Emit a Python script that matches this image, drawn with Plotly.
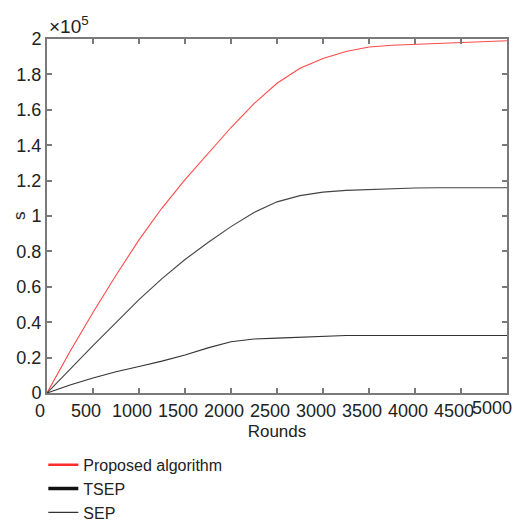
import plotly.graph_objects as go

# Rounds (x) and values (in units of 1e5, as shown with the ×10^5 multiplier)
rounds = [0, 250, 500, 750, 1000, 1250, 1500, 1750, 2000, 2250, 2500, 2750,
          3000, 3250, 3500, 3750, 4000, 4250, 4500, 4750, 5000]
proposed = [0, 0.235, 0.455, 0.665, 0.865, 1.045, 1.205, 1.355, 1.50, 1.635, 1.75, 1.835,
            1.89, 1.93, 1.955, 1.965, 1.97, 1.975, 1.98, 1.985, 1.99]
tsep = [0, 0.135, 0.268, 0.398, 0.528, 0.646, 0.754, 0.85, 0.94, 1.02, 1.08, 1.115,
        1.135, 1.145, 1.15, 1.155, 1.158, 1.16, 1.16, 1.16, 1.16]
sep = [0, 0.045, 0.085, 0.12, 0.15, 0.18, 0.215, 0.255, 0.29, 0.305, 0.31, 0.315,
       0.322, 0.325, 0.325, 0.325, 0.325, 0.325, 0.325, 0.325, 0.325]

x_ticks = [0, 500, 1000, 1500, 2000, 2500, 3000, 3500, 4000, 4500]
x_tick_labels = ["0", "500", "1000", "1500", "2000", "2500", "3000", "3500", "4000", "4500"]
last_x_tick = 5000
last_x_label = "5000"
y_ticks = [0, 0.2, 0.4, 0.6, 0.8, 1, 1.2, 1.4, 1.6, 1.8, 2]

FONT = "Liberation Sans, Arial, sans-serif"
AX = "#7a7a7a"
TXT = "#222"
TICK_SIZE = 18

fig = go.Figure()
series = [("Proposed algorithm", proposed, "#ff2a2a", 2.5, "#ff4a4a"),
          ("TSEP", tsep, "#111111", 3.5, "#444444"),
          ("SEP", sep, "#333333", 1.2, "#333333")]
for name, vals, col, lw, pc in series:
    fig.add_trace(go.Scatter(x=rounds, y=vals, mode="lines", showlegend=False,
                             line=dict(color=pc, width=1.1)))
for name, vals, col, lw, pc in series:
    fig.add_trace(go.Scatter(x=[None], y=[None], mode="lines", name=name,
                             line=dict(color=col, width=lw)))

axis_common = dict(showline=True, linecolor=AX, linewidth=2, mirror="ticks",
                   ticks="inside", ticklen=5, tickcolor=AX, tickwidth=1.5,
                   showgrid=False, zeroline=False, automargin=False,
                   tickfont=dict(family=FONT, size=TICK_SIZE, color=TXT))

fig.update_layout(
    width=513, height=516,
    margin=dict(l=39, r=14, t=31, b=131, autoexpand=False),
    paper_bgcolor="white", plot_bgcolor="white",
    font=dict(family=FONT, size=16, color=TXT),
    xaxis=dict(range=[0, last_x_tick + 0.01], tickvals=x_ticks, ticktext=x_tick_labels,
               ticklabelshift=-7,
               title=dict(text="Rounds", font=dict(family=FONT, size=17, color=TXT), standoff=6),
               **axis_common),
    yaxis=dict(range=[0, 2.0001], tickvals=y_ticks, **axis_common),
    legend=dict(x=-0.008, y=-0.155, xanchor="left", yanchor="top",
                font=dict(family=FONT, size=16, color=TXT),
                bgcolor="rgba(0,0,0,0)", tracegroupgap=0),
    showlegend=True,
)

fig.add_annotation(text=last_x_label, xref="x", yref="paper",
                   x=last_x_tick, y=0, xanchor="right", yanchor="top",
                   xshift=7, yshift=-3, showarrow=False,
                   font=dict(family=FONT, size=TICK_SIZE, color=TXT))
fig.add_annotation(text="×10<sup>5</sup>", xref="paper", yref="paper",
                   x=0.0, y=1.0, xanchor="left", yanchor="bottom", showarrow=False,
                   font=dict(family=FONT, size=19, color=TXT))
fig.add_annotation(text="s", xref="paper", yref="paper",
                   x=(19 - 47) / 460, y=0.5, xanchor="center", yanchor="middle",
                   textangle=-90, showarrow=False,
                   font=dict(family=FONT, size=17, color=TXT))

fig.write_html("out.html")
